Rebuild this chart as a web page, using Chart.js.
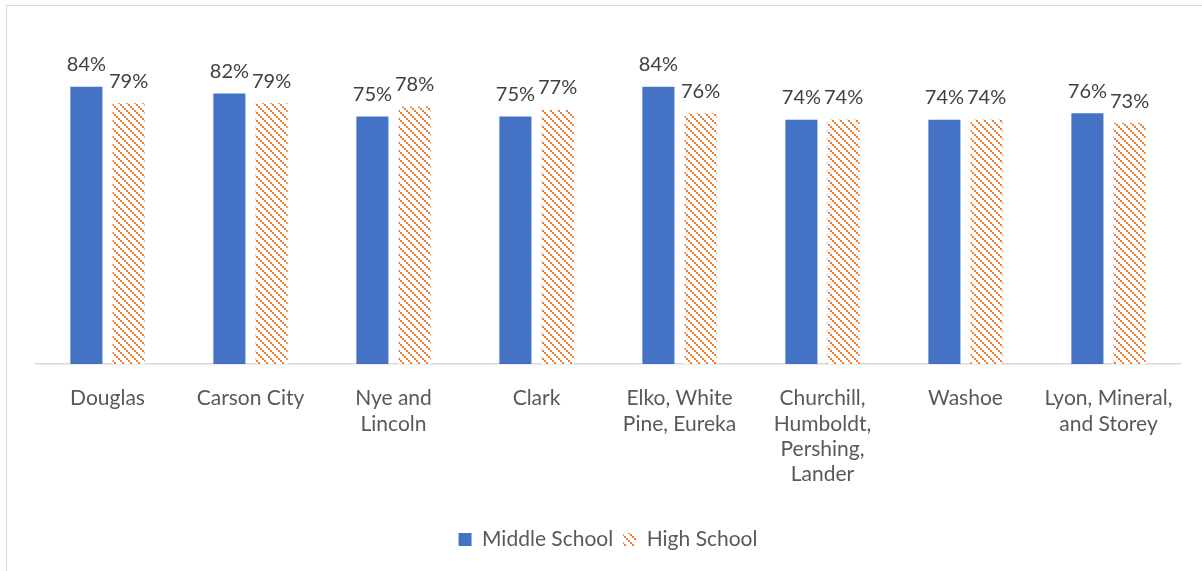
<!DOCTYPE html>
<html>
<head>
<meta charset="utf-8">
<script src="https://cdn.jsdelivr.net/npm/chart.js@4.4.0/dist/chart.umd.min.js"></script>
<style>
  html, body { margin: 0; padding: 0; background: #fff; }
  #wrap { position: relative; width: 1202px; height: 571px; overflow: hidden; }
  #frame { position: absolute; left: 6px; top: 5px; width: 1220px; height: 600px; border: 1px solid #d9d9d9; box-sizing: border-box; }
  canvas { position: absolute; left: 0; top: 0; }
</style>
</head>
<body>
<div id="wrap">
  <div id="frame"></div>
  <canvas id="chart" width="1202" height="571"></canvas>
</div>
<script>
(function() {
  const regions = [
    ['Douglas'],
    ['Carson City'],
    ['Nye and', 'Lincoln'],
    ['Clark'],
    ['Elko, White', 'Pine, Eureka'],
    ['Churchill,', 'Humboldt,', 'Pershing,', 'Lander'],
    ['Washoe'],
    ['Lyon, Mineral,', 'and Storey']
  ];
  const middleSchool = [84, 82, 75, 75, 84, 74, 74, 76];
  const highSchool   = [79, 79, 78, 77, 76, 74, 74, 73];

  const FONT = 'Lato, "Open Sans", sans-serif';

  // orange diagonal dotted hatch
  function hatch() {
    const c = document.createElement('canvas');
    c.width = 8; c.height = 8;
    const g = c.getContext('2d');
    g.fillStyle = '#fff';
    g.fillRect(0, 0, 8, 8);
    g.fillStyle = '#ED7D31';
    for (let k = 0; k < 4; k++) g.fillRect(2 * k, 2 * k, 2, 2);
    return g.createPattern(c, 'repeat');
  }
  const hatchFill = hatch();

  // percent labels above each bar
  const valueLabels = {
    id: 'valueLabels',
    afterDatasetsDraw(chart) {
      const ctx = chart.ctx;
      ctx.save();
      ctx.font = '20px ' + FONT;
      ctx.fillStyle = '#404040';
      ctx.textAlign = 'center';
      ctx.textBaseline = 'bottom';
      chart.data.datasets.forEach((ds, i) => {
        chart.getDatasetMeta(i).data.forEach((bar, j) => {
          ctx.fillText(ds.data[j] + '%', bar.x, bar.y - 12);
        });
      });
      ctx.restore();
    }
  };

  new Chart(document.getElementById('chart'), {
    type: 'bar',
    data: {
      labels: regions,
      datasets: [
        { label: 'Middle School', data: middleSchool, backgroundColor: '#4472C4', borderWidth: 0,
          categoryPercentage: 0.59, barPercentage: 0.76 },
        { label: 'High School', data: highSchool, backgroundColor: hatchFill, borderWidth: 0,
          categoryPercentage: 0.59, barPercentage: 0.76 }
      ]
    },
    options: {
      responsive: false,
      animation: false,
      layout: { padding: { left: 36, right: 22, top: 34, bottom: 11 } },
      plugins: {
        legend: {
          position: 'bottom',
          labels: {
            color: '#595959',
            font: { family: FONT, size: 21 },
            boxWidth: 13, boxHeight: 13, padding: 10
          }
        },
        tooltip: { enabled: false }
      },
      scales: {
        x: {
          grid: { display: false, drawTicks: false },
          border: { color: '#d9d9d9', width: 1.5 },
          ticks: {
            color: '#595959',
            font: { family: FONT, size: 21, lineHeight: 1.2 },
            padding: 22,
            maxRotation: 0, autoSkip: false
          },
          afterFit(scale) { scale.height = 155; }
        },
        y: {
          display: false,
          min: 0, max: 100
        }
      }
    },
    plugins: [valueLabels]
  });
})();
</script>
</body>
</html>
